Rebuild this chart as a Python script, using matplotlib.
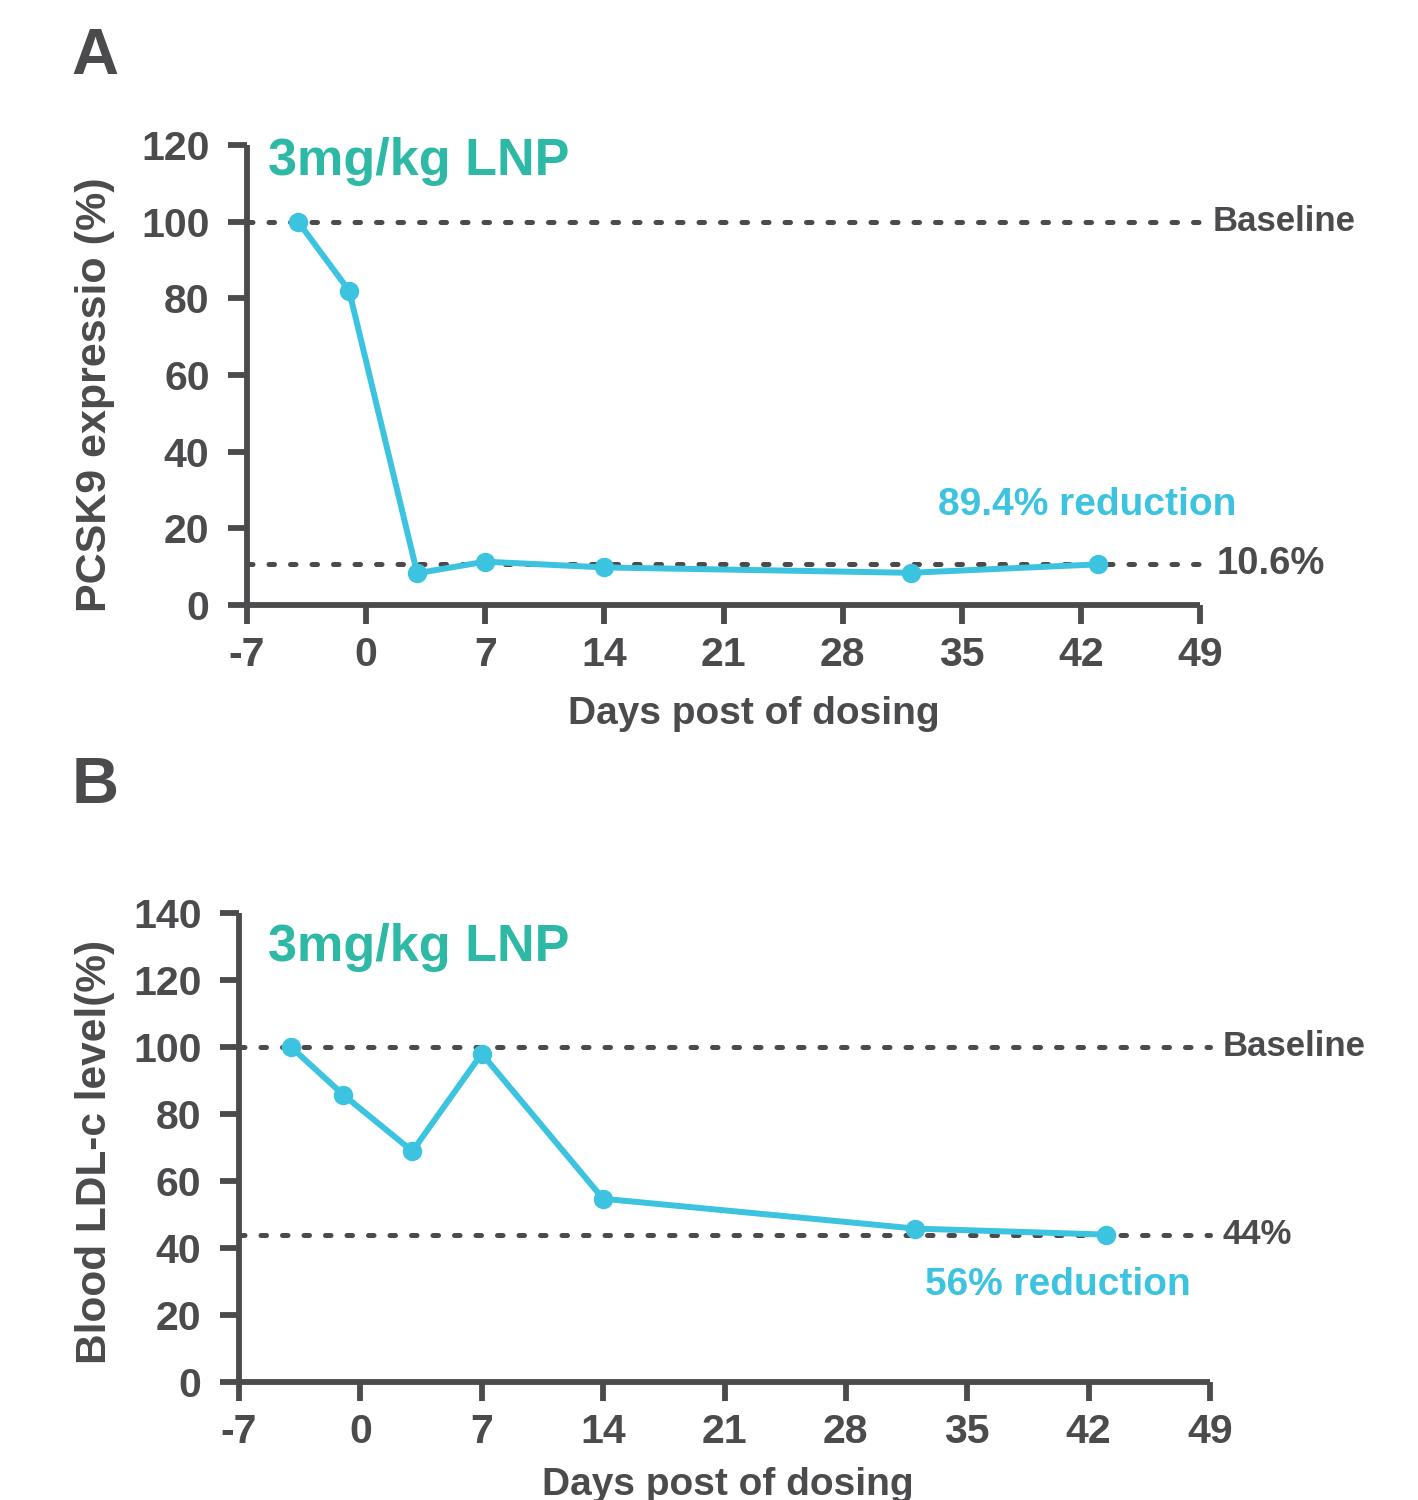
import matplotlib
matplotlib.use("Agg")
import matplotlib.pyplot as plt

# ---- data ----
days = [-4, -1, 3, 7, 14, 32, 43]
pcsk9 = [100, 82, 8.3, 11.3, 9.8, 8.4, 10.6]
ldl = [100, 85.8, 68.9, 98.0, 54.7, 45.8, 44.0]
xticks = [-7, 0, 7, 14, 21, 28, 35, 42, 49]
yticks_a = [0, 20, 40, 60, 80, 100, 120]
yticks_b = [0, 20, 40, 60, 80, 100, 120, 140]
baseline = 100
pcsk9_floor = 10.6
ldl_floor = 44

GRAY = "#4b4b4d"
CYAN = "#3cc3df"
TEAL = "#2db9a5"
FONT = "Liberation Sans"

plt.rcParams['font.family'] = [FONT, 'DejaVu Sans']
plt.rcParams['font.weight'] = 'bold'
plt.rcParams['axes.unicode_minus'] = False

fig = plt.figure(figsize=(14.18, 15), dpi=100)

def style_axes(ax, yticks, ylim):
    ax.set_xlim(-7, 49)
    ax.set_ylim(*ylim)
    ax.set_xticks(xticks)
    ax.set_yticks(yticks)
    for s in ['top', 'right']:
        ax.spines[s].set_visible(False)
    for s in ['left', 'bottom']:
        ax.spines[s].set_linewidth(4.2)
        ax.spines[s].set_color(GRAY)
        ax.spines[s].set_capstyle('butt')
    ax.tick_params(axis='x', direction='out', length=14, width=4.2, color=GRAY,
                   labelsize=29.5, labelcolor=GRAY, pad=8)
    ax.tick_params(axis='y', direction='out', length=14, width=4.2, color=GRAY,
                   labelsize=29.5, labelcolor=GRAY, pad=13)
    for lab in ax.get_xticklabels() + ax.get_yticklabels():
        lab.set_fontweight('bold')
        lab.set_fontfamily(FONT)

def hline(ax, y):
    ax.plot([-7, 49], [y, y], color=GRAY, lw=3.6, linestyle=(0, (1.1, 3.2)),
            dash_capstyle='round', zorder=2, clip_on=False)

# ---- Panel A ----
axA = fig.add_axes([247/1418, 1-605/1500, (1200-247)/1418, (605-145)/1500])
style_axes(axA, yticks_a, (0, 120))
hline(axA, baseline)
hline(axA, pcsk9_floor)
axA.plot(days, pcsk9, color=CYAN, lw=4.3, marker='o', markersize=14, markeredgewidth=0,
         zorder=3, clip_on=False)
axA.text(-5.77, 115.6, "3mg/kg LNP", color=TEAL, fontsize=37.5, fontweight='bold', ha='left', va='center')
axA.text(49.76, baseline, "Baseline", color=GRAY, fontsize=25, fontweight='bold', ha='left', va='center', clip_on=False)
axA.text(50.0, pcsk9_floor, "10.6%", color=GRAY, fontsize=27.5, fontweight='bold', ha='left', va='center', clip_on=False)
axA.text(42.35, 26.1, "89.4% reduction", color=CYAN, fontsize=28, fontweight='bold', ha='center', va='center')
fig.text(754/1418, 1-714/1500, "Days post of dosing", color=GRAY, fontsize=28, fontweight='bold', ha='center', va='center')
fig.text(95/1418, 1-395/1500, "PCSK9 expressio (%)", color=GRAY, fontsize=31, fontweight='bold', ha='center', va='center', rotation=90)
fig.text(95/1418, 1-57/1500, "A", color=GRAY, fontsize=47, fontweight='bold', ha='center', va='center')

# ---- Panel B ----
axB = fig.add_axes([239/1418, 1-1382/1500, (1210-239)/1418, (1382-913)/1500])
style_axes(axB, yticks_b, (0, 140))
hline(axB, baseline)
hline(axB, ldl_floor)
axB.plot(days, ldl, color=CYAN, lw=4.3, marker='o', markersize=14, markeredgewidth=0,
         zorder=3, clip_on=False)
axB.text(-5.33, 129.6, "3mg/kg LNP", color=TEAL, fontsize=37.5, fontweight='bold', ha='left', va='center')
axB.text(49.7, baseline, "Baseline", color=GRAY, fontsize=25, fontweight='bold', ha='left', va='center', clip_on=False)
axB.text(49.7, ldl_floor, "44%", color=GRAY, fontsize=25, fontweight='bold', ha='left', va='center', clip_on=False)
axB.text(40.2, 28.9, "56% reduction", color=CYAN, fontsize=28, fontweight='bold', ha='center', va='center')
fig.text(728/1418, 1-1485/1500, "Days post of dosing", color=GRAY, fontsize=28, fontweight='bold', ha='center', va='center')
fig.text(95/1418, 1-1152/1500, "Blood LDL-c level(%)", color=GRAY, fontsize=30.5, fontweight='bold', ha='center', va='center', rotation=90)
fig.text(95/1418, 1-786/1500, "B", color=GRAY, fontsize=47, fontweight='bold', ha='center', va='center')

fig.savefig("out.png", dpi=100, facecolor='white')
